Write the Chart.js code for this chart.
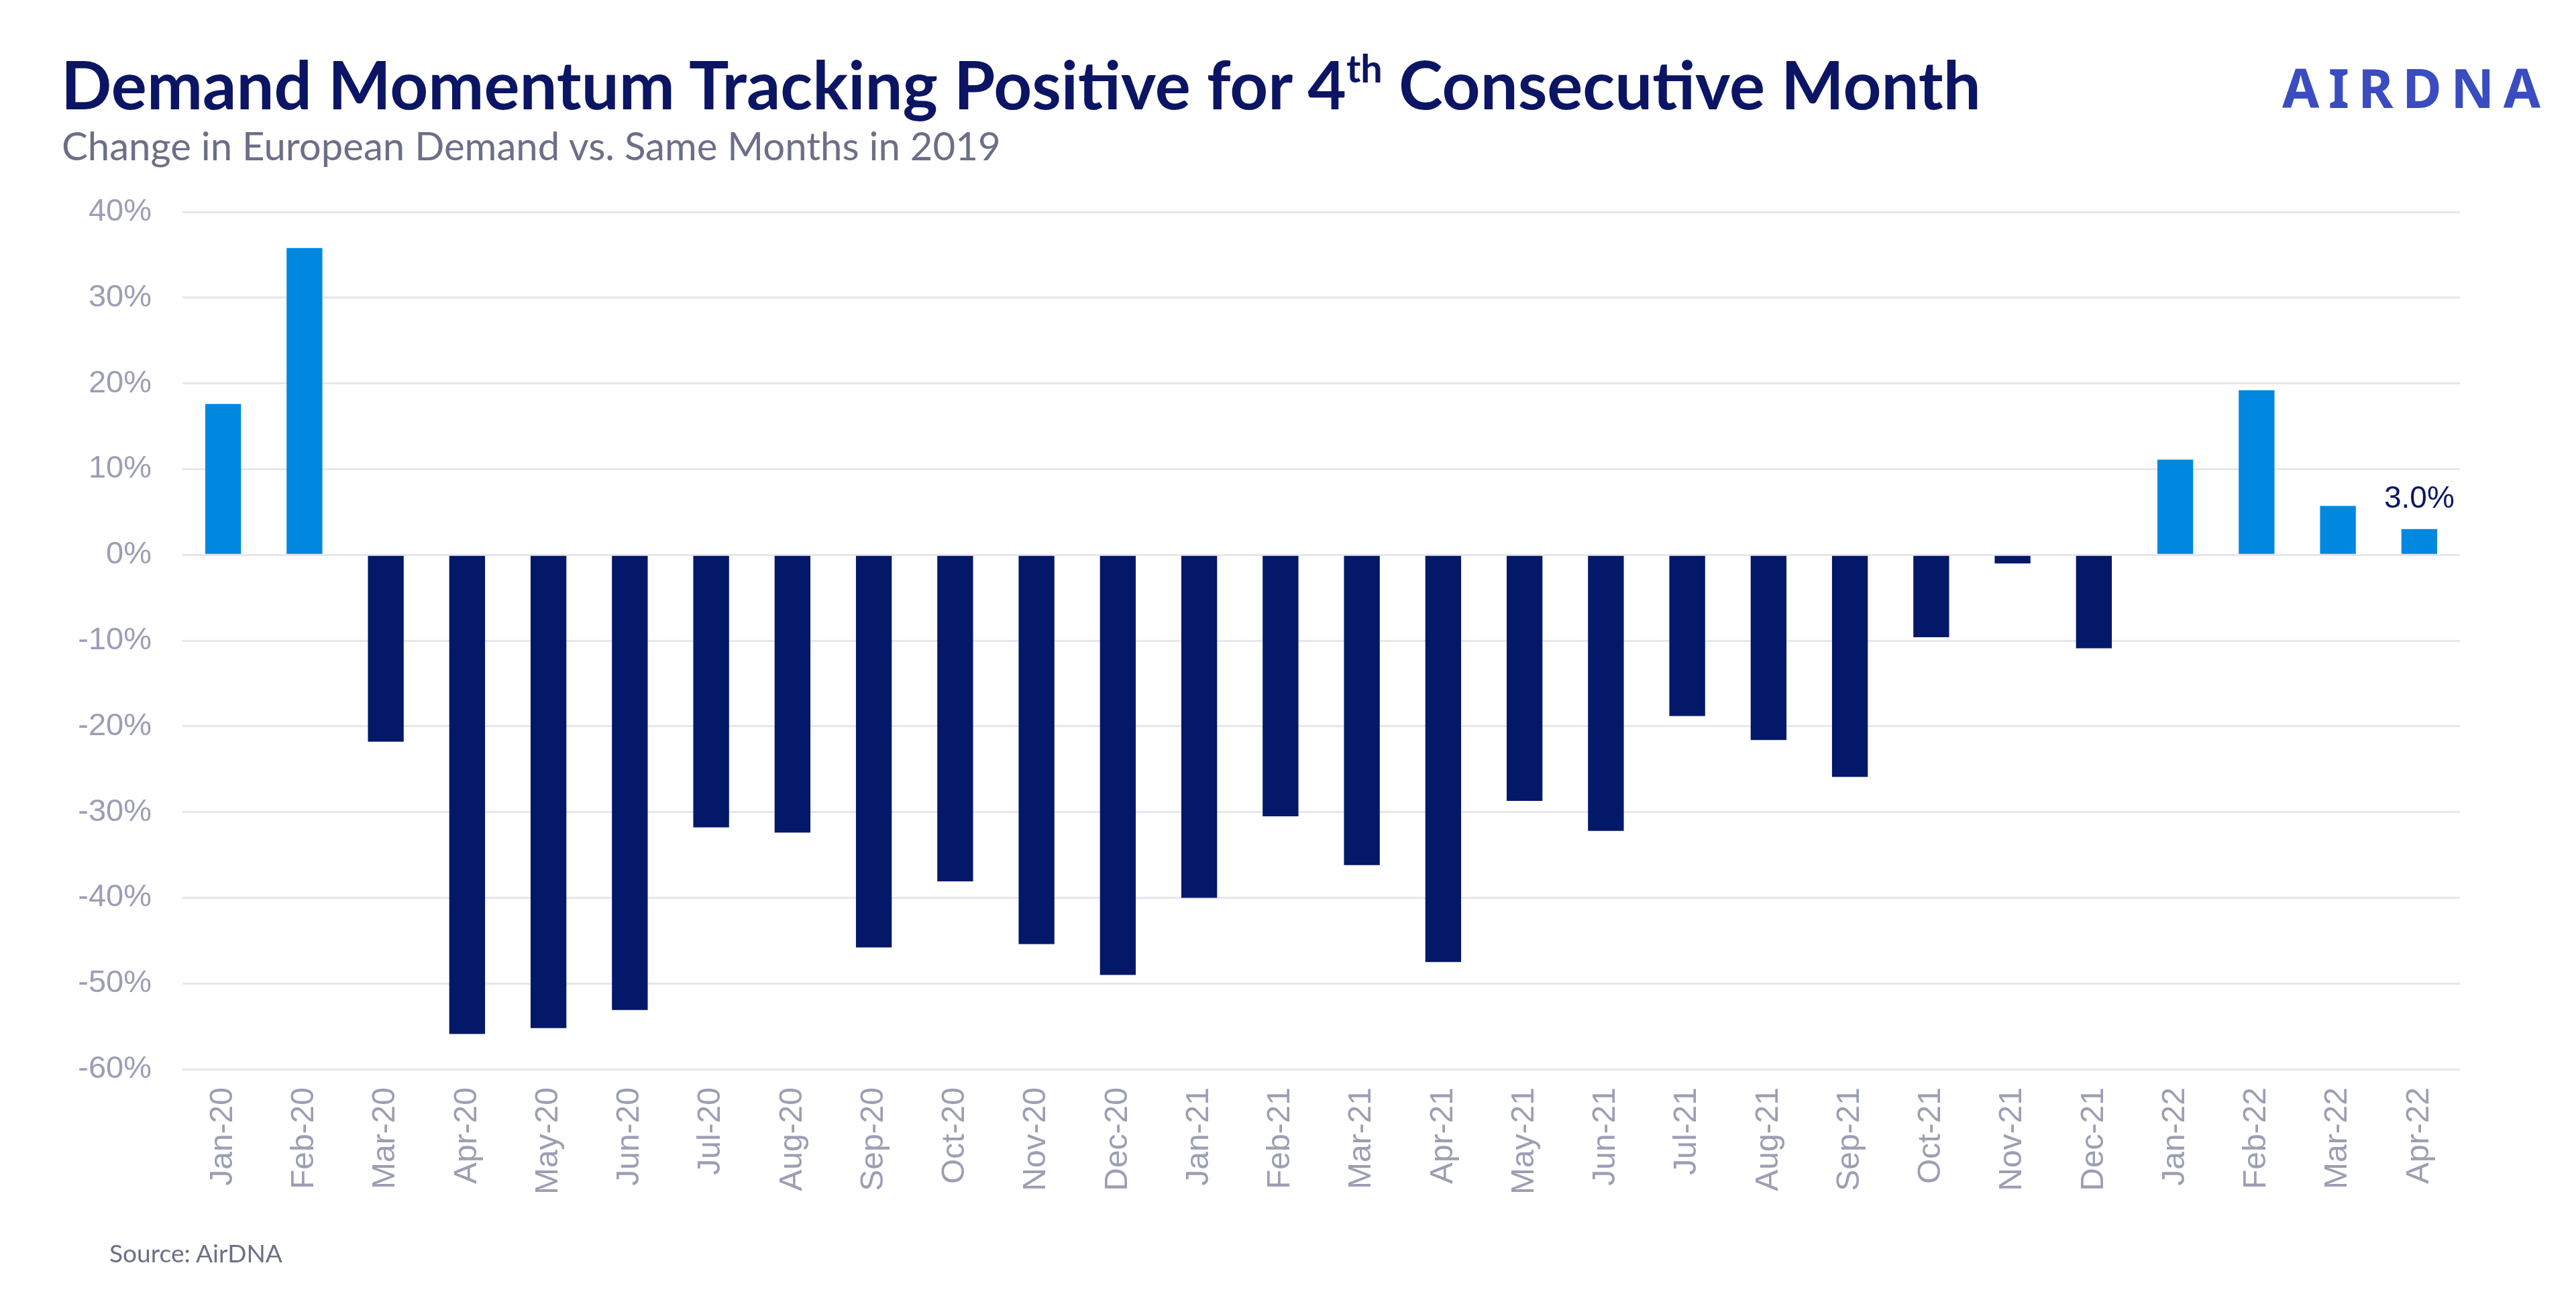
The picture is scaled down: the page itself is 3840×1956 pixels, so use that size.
<!DOCTYPE html>
<html>
<head>
<meta charset="utf-8">
<script src="https://cdn.jsdelivr.net/npm/chart.js@4.4.1/dist/chart.umd.min.js"></script>
<style>
  html, body { margin: 0; padding: 0; background: #ffffff; }
  #wrap { position: relative; width: 3840px; height: 1956px; overflow: hidden; background: #fff; }
  #c { position: absolute; left: 0; top: 0; }
  .txt { position: absolute; white-space: nowrap; line-height: 1; }
  #title { left: 91px; top: 75px; font-family: Lato, "Open Sans", sans-serif; font-weight: 700; font-size: 100px; color: #0b1563; }
  #title sup { font-size: 0.58em; position: relative; top: -0.06em; vertical-align: top; line-height: 1; }
  #subtitle { left: 92px; top: 188px; font-family: Lato, sans-serif; font-weight: 400; font-size: 58px; color: #6c6f87; }
  #logo { left: 3402px; top: 90px; font-family: "Noto Sans", Lato, sans-serif; font-weight: 700; font-size: 80px; color: #3a4cc0; }
  #source { left: 163px; top: 1849px; font-family: Lato, sans-serif; font-size: 37px; color: #6c6f87; }
</style>
</head>
<body>
<div id="wrap">
  <canvas id="c" width="3840" height="1956"></canvas>
  <div class="txt" id="title">Demand Momentum Tracking Positive for 4<sup>th</sup> Consecutive Month</div>
  <div class="txt" id="subtitle">Change in European Demand vs. Same Months in 2019</div>
  <div class="txt" id="logo">AIRDNA</div>
  <div class="txt" id="source">Source: AirDNA</div>
</div>
<script>
const categories = ["Jan-20","Feb-20","Mar-20","Apr-20","May-20","Jun-20","Jul-20","Aug-20","Sep-20","Oct-20","Nov-20","Dec-20",
  "Jan-21","Feb-21","Mar-21","Apr-21","May-21","Jun-21","Jul-21","Aug-21","Sep-21","Oct-21","Nov-21","Dec-21",
  "Jan-22","Feb-22","Mar-22","Apr-22"];
const demandChange = [17.6, 35.8, -21.8, -55.9, -55.2, -53.1, -31.8, -32.4, -45.8, -38.1, -45.4, -49.0,
  -40.0, -30.5, -36.2, -47.5, -28.7, -32.2, -18.8, -21.6, -25.9, -9.6, -1.0, -10.9,
  11.1, 19.2, 5.7, 3.0];
const valueLabels = [null,null,null,null,null,null,null,null,null,null,null,null,
  null,null,null,null,null,null,null,null,null,null,null,null,
  null,null,null,"3.0%"];
const yTicks = [-60, -50, -40, -30, -20, -10, 0, 10, 20, 30, 40];

const POS = "#0088e0", NEG = "#031868";

// fit header/footer text widths to the reference
function fitWidth(id, target) {
  const el = document.getElementById(id);
  const fs = parseFloat(getComputedStyle(el).fontSize);
  const w = el.getBoundingClientRect().width;
  if (w > 0) el.style.fontSize = (fs * target / w).toFixed(2) + 'px';
}
fitWidth('title', 2862);
fitWidth('subtitle', 1400);
fitWidth('source', 258);
(function () {
  const el = document.getElementById('logo');
  const w = el.getBoundingClientRect().width;
  const sp = (385 - w) / 5;
  el.style.letterSpacing = sp.toFixed(2) + 'px';
})();

const labelPlugin = {
  id: 'valueLabels',
  afterDatasetsDraw(chart) {
    const ctx = chart.ctx;
    const meta = chart.getDatasetMeta(0);
    ctx.save();
    ctx.font = '46px "Liberation Sans", Arial, sans-serif';
    ctx.fillStyle = '#0b1563';
    ctx.textAlign = 'center';
    ctx.textBaseline = 'alphabetic';
    meta.data.forEach((bar, i) => {
      if (valueLabels[i]) ctx.fillText(valueLabels[i], bar.x, Math.min(bar.y, bar.base) - 32);
    });
    ctx.restore();
  }
};

new Chart(document.getElementById('c'), {
  type: 'bar',
  data: {
    labels: categories,
    datasets: [{
      data: demandChange,
      backgroundColor: demandChange.map(v => v >= 0 ? POS : NEG),
      borderWidth: 0,
      categoryPercentage: 1,
      barPercentage: 0.44
    }]
  },
  options: {
    responsive: false,
    animation: false,
    layout: { padding: { top: 316, right: 173, bottom: 0, left: 0 } },
    plugins: { legend: { display: false }, tooltip: { enabled: false }, title: { display: false } },
    scales: {
      x: {
        grid: { display: false, drawTicks: false },
        border: { display: false },
        ticks: {
          autoSkip: false, minRotation: 90, maxRotation: 90, padding: 27,
          color: '#9c9eb4', font: { family: '"Liberation Sans", Arial, sans-serif', size: 48 }
        },
        afterFit(scale) { scale.height = 362; }
      },
      y: {
        min: -60, max: 40,
        afterBuildTicks(scale) { scale.ticks = yTicks.map(v => ({ value: v })); },
        grid: { color: '#e6e6ec', lineWidth: 3, drawTicks: false },
        border: { display: false },
        ticks: {
          padding: 46,
          color: '#9c9eb4', font: { family: '"Liberation Sans", Arial, sans-serif', size: 47 },
          callback: v => v + '%'
        },
        afterFit(scale) { scale.width = 272; }
      }
    }
  },
  plugins: [labelPlugin]
});
</script>
</body>
</html>
